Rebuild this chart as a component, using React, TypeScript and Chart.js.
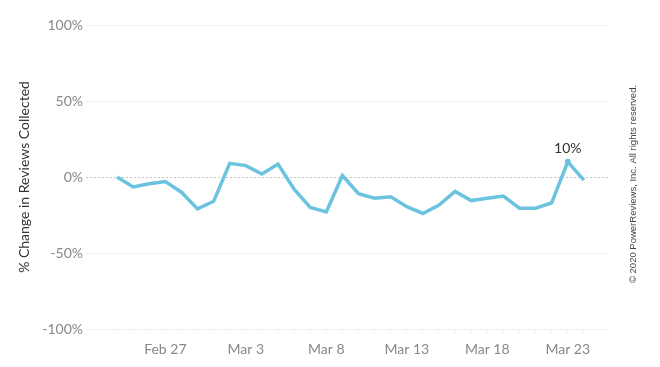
import React, { useEffect, useRef } from "react";
import { Chart, registerables } from "chart.js";

Chart.register(...registerables);

const dates: string[] = [
  "Feb 24", "Feb 25", "Feb 26", "Feb 27", "Feb 28", "Feb 29",
  "Mar 1", "Mar 2", "Mar 3", "Mar 4", "Mar 5", "Mar 6", "Mar 7", "Mar 8",
  "Mar 9", "Mar 10", "Mar 11", "Mar 12", "Mar 13", "Mar 14", "Mar 15",
  "Mar 16", "Mar 17", "Mar 18", "Mar 19", "Mar 20", "Mar 21", "Mar 22",
  "Mar 23", "Mar 24",
];
const changePct: number[] = [
  0, -6.5, -4.5, -3, -10, -21, -16, 9, 7.5, 2, 8.5, -8, -20, -23, 1,
  -11, -14, -13, -19.5, -24, -18.5, -9.5, -15.5, -14, -12.5, -20.5, -20.5,
  -17, 10, -2,
];
const tickLabels: string[] = ["Feb 27", "Mar 3", "Mar 8", "Mar 13", "Mar 18", "Mar 23"];
const yTicks: number[] = [-100, -50, 0, 50, 100];
const highlightLabel = "Mar 23";
const yTitle = "% Change in Reviews Collected";
const copyright = "\u00A9 2020 PowerReviews, Inc. All rights reserved.";

const FONT = "Lato, 'Open Sans', sans-serif";

export default function App() {
  const ref = useRef<HTMLCanvasElement | null>(null);

  useEffect(() => {
    document.body.style.margin = "0";
    const canvas = ref.current;
    if (!canvas) return;
    const hiIdx = dates.indexOf(highlightLabel);

    const annot = {
      id: "annot",
      afterDatasetsDraw(chart: any) {
        const ctx = chart.ctx;
        const meta = chart.getDatasetMeta(0);
        const el = meta.data[hiIdx];
        ctx.save();
        if (el) {
          ctx.fillStyle = "#333333";
          ctx.font = `14px ${FONT}`;
          ctx.textAlign = "center";
          ctx.textBaseline = "bottom";
          ctx.fillText(Math.round(changePct[hiIdx]) + "%", el.x, el.y - 6);
        }
        ctx.translate(633, 184);
        ctx.rotate(-Math.PI / 2);
        ctx.fillStyle = "#444444";
        ctx.font = "9.5px 'Liberation Sans', Arial, sans-serif";
        ctx.textAlign = "center";
        ctx.textBaseline = "middle";
        ctx.fillText(copyright, 0, 0);
        ctx.restore();
      },
    };

    const chart = new Chart(canvas, {
      type: "line",
      data: {
        datasets: [
          {
            data: changePct.map((v, i) => ({ x: i, y: v })),
            borderColor: "#6cc3df",
            backgroundColor: "#6cc3df",
            borderWidth: 3.5,
            pointRadius: changePct.map((_, i) => (i === hiIdx ? 3 : 0)),
            pointBorderWidth: 0,
            pointHoverRadius: 0,
            tension: 0,
            fill: false,
          },
        ],
      },
      options: {
        animation: false,
        responsive: false,
        events: [],
        layout: { padding: { left: 0, right: 52, top: 25, bottom: 0 } },
        plugins: { legend: { display: false }, tooltip: { enabled: false } },
        scales: {
          x: {
            type: "linear",
            min: -1.93,
            max: 30.5,
            afterBuildTicks: (scale: any) => {
              scale.ticks = dates.map((_, i) => ({ value: i }));
            },
            afterFit: (scale: any) => {
              scale.height = 38;
            },
            ticks: {
              autoSkip: false,
              maxRotation: 0,
              padding: 8,
              color: "#888888",
              font: { family: FONT, size: 14 },
              callback: (v: any) => {
                const lbl = dates[Number(v)];
                return tickLabels.includes(lbl) ? lbl : "";
              },
            },
            grid: {
              drawOnChartArea: false,
              drawTicks: true,
              tickLength: 4,
              tickColor: "#f2f2f2",
            },
            border: { display: false },
          },
          y: {
            min: -100,
            max: 100,
            afterBuildTicks: (scale: any) => {
              scale.ticks = yTicks.map((v) => ({ value: v }));
            },
            afterFit: (scale: any) => {
              scale.width = 86;
            },
            ticks: {
              padding: 3,
              color: "#888888",
              font: { family: FONT, size: 14 },
              callback: (v: any) => v + "%",
            },
            title: {
              display: true,
              text: yTitle,
              color: "#333333",
              font: { family: FONT, size: 14 },
              padding: { top: 16, bottom: 0 },
            },
            grid: {
              drawTicks: false,
              lineWidth: 1,
              color: (ctx: any) => (ctx.tick && ctx.tick.value === 0 ? "#c4c4c4" : "#f0f0f0"),
            },
            border: {
              display: false,
              dash: (ctx: any) => (ctx.tick && ctx.tick.value === 0 ? [2, 2] : []),
            },
          },
        },
      },
      plugins: [annot],
    } as any);

    return () => chart.destroy();
  }, []);

  return (
    <div style={{ width: 660, height: 367, background: "#ffffff" }}>
      <canvas ref={ref} width={660} height={367} style={{ display: "block" }} />
    </div>
  );
}
